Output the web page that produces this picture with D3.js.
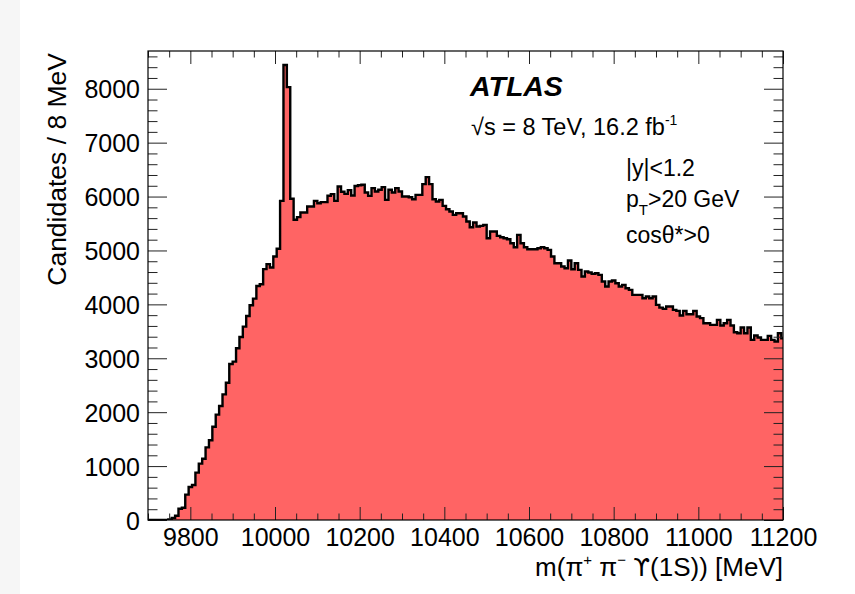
<!DOCTYPE html>
<html><head><meta charset="utf-8">
<script src="https://cdn.jsdelivr.net/npm/d3@7"></script>
<style>
html,body{margin:0;padding:0;background:#fff;}
text{font-family:"Liberation Sans",Arial,Helvetica,sans-serif;fill:#000;}
</style></head>
<body><svg id="c" width="855" height="594"></svg>
<script>
// ---------------- data ----------------
const binStart = 9700;   // MeV, lower edge of first bin
const binWidth = 8;      // MeV
const counts = [
  0,0,0,0,0,0,12,37,80,210,
  228,470,612,650,878,1045,1137,1348,1478,1731,
  1954,2115,2331,2547,2894,2937,3185,3395,3587,3785,
  3983,4106,4341,4374,4653,4746,4684,4889,5031,5920,
  8440,8030,5960,5570,5618,5704,5704,5816,5816,5920,
  5877,5896,5896,6014,6045,5920,6187,6090,6050,6120,
  6020,6195,6210,6218,6076,6013,6156,6094,6125,6175,
  5939,6125,6076,6156,6094,6000,6000,5988,5951,6032,
  6032,6230,6360,6230,5951,5908,5939,5827,5765,5722,
  5660,5691,5691,5629,5536,5431,5518,5444,5456,5475,
  5227,5351,5351,5270,5246,5227,5208,5134,5060,5289,
  5134,5060,5023,5023,5023,5041,5061,5040,5011,4887,
  4764,4764,4702,4671,4813,4652,4764,4640,4516,4609,
  4590,4566,4578,4547,4423,4331,4423,4442,4393,4331,
  4362,4300,4269,4176,4176,4176,4114,4145,4114,4145,
  3991,3940,3916,3960,3960,3898,3880,3793,3880,3818,
  3818,3880,3775,3744,3651,3651,3620,3620,3713,3608,
  3651,3713,3608,3484,3465,3571,3465,3571,3341,3422,
  3385,3341,3341,3416,3341,3310,3465,3372
];
const xDomain = [9700, 11200];
const yDomain = [0, 8700];
const xMajorTicks = [9800, 10000, 10200, 10400, 10600, 10800, 11000, 11200];
const xTickLabels = ["9800","10000","10200","10400","10600","10800","11000","11200"];
const xMinorStep = 50;
const yMajorTicks = [0, 1000, 2000, 3000, 4000, 5000, 6000, 7000, 8000];
const yTickLabels = ["0","1000","2000","3000","4000","5000","6000","7000","8000"];
const yMinorStep = 200;

// ---------------- layout ----------------
const L = 148, R = 783, T = 51, B = 520;
const svg = d3.select("#c");
svg.append("rect").attr("width",855).attr("height",594).attr("fill","#fff");
svg.append("rect").attr("x",0).attr("y",0).attr("width",20).attr("height",594).attr("fill","#f6f6f6");

const x = d3.scaleLinear().domain(xDomain).range([L, R]);
const y = d3.scaleLinear().domain(yDomain).range([B, T]);

svg.append("defs").append("clipPath").attr("id","clip")
  .append("rect").attr("x",L).attr("y",T).attr("width",R-L).attr("height",B-T);

// histogram points
const pts = counts.map((c,i)=>({e: binStart + i*binWidth, c}));
pts.push({e: binStart + counts.length*binWidth, c: counts[counts.length-1]});

const area = d3.area().curve(d3.curveStepAfter)
  .x(d=>x(d.e)).y0(y(0)).y1(d=>y(d.c));
const line = d3.line().curve(d3.curveStepAfter)
  .x(d=>x(d.e)).y(d=>y(d.c));

const g = svg.append("g").attr("clip-path","url(#clip)");
g.append("path").datum(pts).attr("d",area).attr("fill","#ff6464");
g.append("path").datum(pts).attr("d",line).attr("fill","none")
  .attr("stroke","#000").attr("stroke-width",2.4).attr("stroke-linejoin","miter");

// ---------------- axes ----------------
const tickCol = "#222";
const xMinor = d3.range(xDomain[0], xDomain[1]+1, xMinorStep).filter(v=>!xMajorTicks.includes(v));
const yMinor = d3.range(yDomain[0], yDomain[1], yMinorStep).filter(v=>!yMajorTicks.includes(v));

// bottom axis
const axB = d3.axisBottom(x).tickValues(xMajorTicks).tickSizeInner(-13).tickSizeOuter(0)
  .tickFormat((d,i)=>xTickLabels[i]);
const gB = svg.append("g").attr("transform",`translate(0,${B})`).call(axB);
gB.select(".domain").remove();
gB.selectAll(".tick line").attr("stroke",tickCol);
gB.selectAll(".tick text").attr("font-size",25).attr("font-family",null).attr("dy",0).attr("y",26);
const axBm = d3.axisBottom(x).tickValues(xMinor).tickSize(-6.5).tickFormat("");
const gBm = svg.append("g").attr("transform",`translate(0,${B})`).call(axBm);
gBm.select(".domain").remove(); gBm.selectAll("line").attr("stroke",tickCol);

// top axis
const axT = d3.axisTop(x).tickValues(xMajorTicks).tickSize(-13).tickFormat("");
const gT = svg.append("g").attr("transform",`translate(0,${T})`).call(axT);
gT.select(".domain").remove(); gT.selectAll("line").attr("stroke",tickCol);
const axTm = d3.axisTop(x).tickValues(xMinor).tickSize(-6.5).tickFormat("");
const gTm = svg.append("g").attr("transform",`translate(0,${T})`).call(axTm);
gTm.select(".domain").remove(); gTm.selectAll("line").attr("stroke",tickCol);

// left axis
const axL = d3.axisLeft(y).tickValues(yMajorTicks).tickSizeInner(-19).tickSizeOuter(0)
  .tickFormat((d,i)=>yTickLabels[i]);
const gL = svg.append("g").attr("transform",`translate(${L},0)`).call(axL);
gL.select(".domain").remove();
gL.selectAll(".tick line").attr("stroke",tickCol);
gL.selectAll(".tick text").attr("font-size",25).attr("font-family",null).attr("x",-8).attr("dy","0.36em");
const axLm = d3.axisLeft(y).tickValues(yMinor).tickSize(-9.5).tickFormat("");
const gLm = svg.append("g").attr("transform",`translate(${L},0)`).call(axLm);
gLm.select(".domain").remove(); gLm.selectAll("line").attr("stroke",tickCol);

// right axis
const axR = d3.axisRight(y).tickValues(yMajorTicks).tickSize(-19).tickFormat("");
const gR = svg.append("g").attr("transform",`translate(${R},0)`).call(axR);
gR.select(".domain").remove(); gR.selectAll("line").attr("stroke",tickCol);
const axRm = d3.axisRight(y).tickValues(yMinor).tickSize(-9.5).tickFormat("");
const gRm = svg.append("g").attr("transform",`translate(${R},0)`).call(axRm);
gRm.select(".domain").remove(); gRm.selectAll("line").attr("stroke",tickCol);

// frame
svg.append("rect").attr("x",L).attr("y",T).attr("width",R-L).attr("height",B-T)
  .attr("fill","none").attr("stroke","#000").attr("stroke-width",1.2);

// ---------------- titles ----------------
const xt = svg.append("text").attr("x",R).attr("y",576).attr("text-anchor","end").attr("font-size",26);
xt.append("tspan").text("m(π");
xt.append("tspan").attr("font-size",15).attr("dy",-11).text("+");
xt.append("tspan").attr("dy",11).text(" π");
xt.append("tspan").attr("font-size",15).attr("dy",-11).text("−");
xt.append("tspan").attr("dy",11).text(" ");
xt.append("tspan").attr("font-family","DejaVu Sans").attr("font-size",24).text("ϒ");
xt.append("tspan").text("(1S)) [MeV]");

svg.append("text").attr("transform","translate(66,53) rotate(-90)")
  .attr("text-anchor","end").attr("font-size",26.5).text("Candidates / 8 MeV");

svg.append("text").attr("x",470).attr("y",96).attr("font-size",28.5)
  .attr("font-weight","bold").attr("font-style","italic").text("ATLAS");

const s = svg.append("text").attr("x",471).attr("y",135).attr("font-size",23.5);
s.append("tspan").text("√s = 8 TeV, 16.2 fb");
s.append("tspan").attr("font-size",14).attr("dy",-10).text("-1");

svg.append("text").attr("x",626).attr("y",176).attr("font-size",23).text("|y|<1.2");
const pt = svg.append("text").attr("x",626).attr("y",207).attr("font-size",23);
pt.append("tspan").text("p");
pt.append("tspan").attr("font-size",15).attr("dy",8).text("T");
pt.append("tspan").attr("dy",-8).text(">20 GeV");
svg.append("text").attr("x",626).attr("y",243).attr("font-size",23).text("cosθ*>0");
</script></body></html>
